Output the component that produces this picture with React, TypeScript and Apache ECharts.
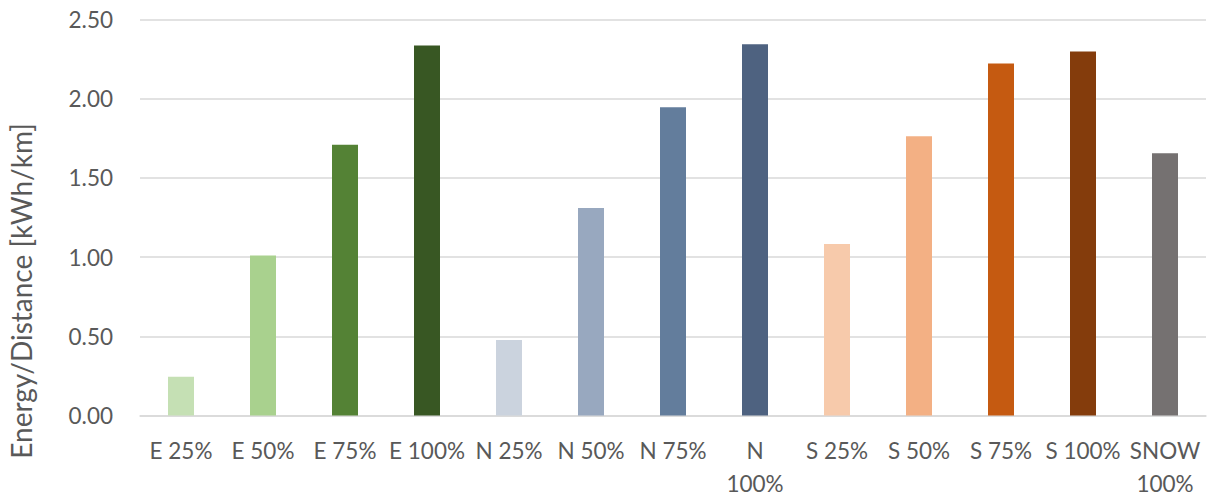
import React, { useEffect, useRef } from "react";
import * as echarts from "echarts";

const categories = ["E 25%", "E 50%", "E 75%", "E 100%", "N 25%", "N 50%", "N 75%", "N\n100%", "S 25%", "S 50%", "S 75%", "S 100%", "SNOW\n100%"];
const values = [0.245, 1.01, 1.71, 2.336, 0.476, 1.31, 1.946, 2.343, 1.083, 1.763, 2.223, 2.298, 1.656];
const colors = ["#c5e0b4", "#a9d18e", "#548235", "#385723", "#cbd3de", "#98a8bf", "#637d9c", "#4e6280", "#f7caab", "#f3b084", "#c55a11", "#843c0c", "#757171"];
const yTitle = "Energy/Distance [kWh/km]";

const FONT = "Lato";

export default function App() {
  const ref = useRef<HTMLDivElement>(null);
  useEffect(() => {
    const chart = echarts.init(ref.current!, null, { renderer: "svg" });
    chart.setOption({
      animation: false,
      backgroundColor: "#ffffff",
      grid: { left: 140, right: 8, top: 19.5, bottom: 85.5 },
      xAxis: {
        type: "category",
        data: categories,
        axisLine: { lineStyle: { color: "#d9d9d9", width: 1.5 } },
        axisTick: { show: false },
        axisLabel: {
          color: "#595959",
          fontFamily: FONT,
          fontSize: 22.5,
          lineHeight: 33,
          margin: 18,
          interval: 0,
        },
      },
      yAxis: {
        type: "value",
        min: 0,
        max: 2.5,
        interval: 0.5,
        axisLine: { show: false },
        axisTick: { show: false },
        splitLine: { lineStyle: { color: "#d9d9d9", width: 1.5 } },
        axisLabel: {
          color: "#595959",
          fontFamily: FONT,
          fontSize: 22.5,
          margin: 27,
          formatter: (v: number) => v.toFixed(2),
        },
      },
      graphic: [
        {
          type: "text",
          x: 21,
          y: 291,
          rotation: Math.PI / 2,
          style: {
            text: yTitle,
            fill: "#595959",
            fontFamily: FONT,
            fontSize: 28,
            align: "center",
            verticalAlign: "middle",
          },
        },
      ],
      series: [
        {
          type: "bar",
          barWidth: 26,
          data: values.map((v, i) => ({ value: v, itemStyle: { color: colors[i] } })),
        },
      ],
    });
    return () => chart.dispose();
  }, []);
  return (
    <div
      ref={ref}
      style={{ position: "absolute", left: 0, top: 0, width: 1214, height: 501 }}
    />
  );
}
